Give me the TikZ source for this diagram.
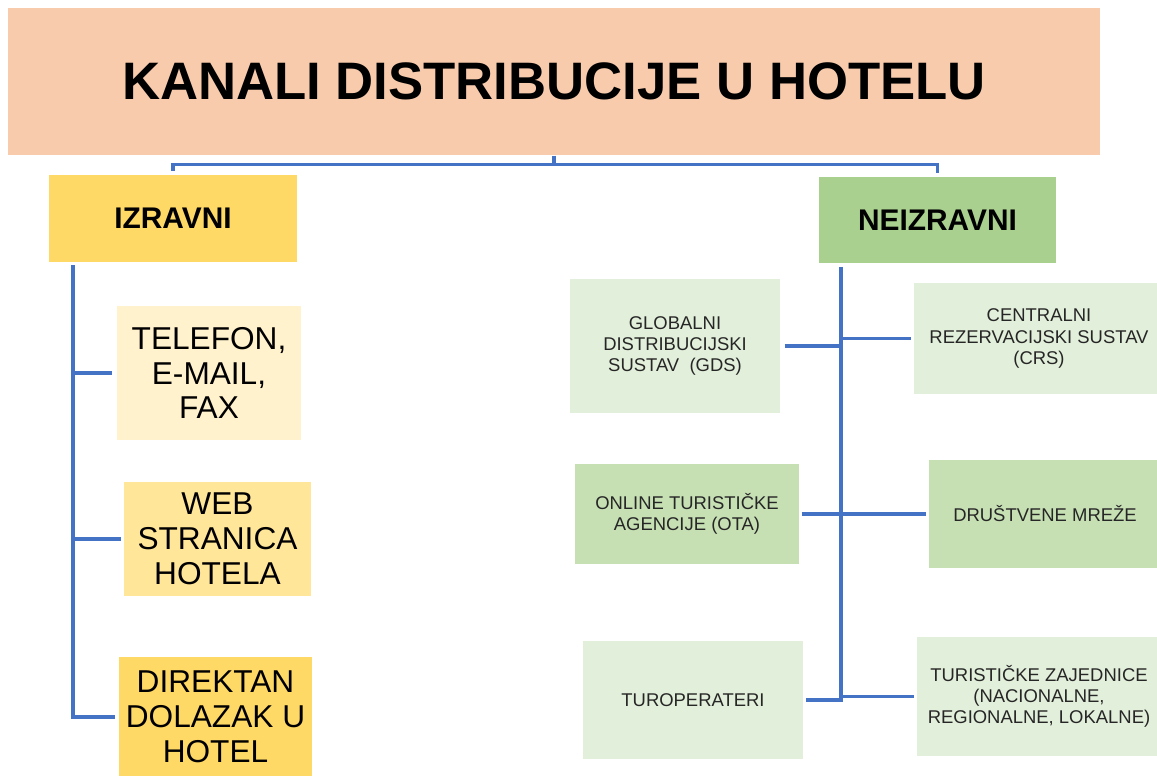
\documentclass[tikz,border=0pt]{standalone}
\usepackage{fontspec}
\setmainfont{Liberation Sans}
\usepackage{xcolor}
\definecolor{peach}{HTML}{F8CBAD}
\definecolor{gold}{HTML}{FFD966}
\definecolor{cream}{HTML}{FFF2CC}
\definecolor{sand}{HTML}{FFE699}
\definecolor{leaf}{HTML}{A9D08E}
\definecolor{mint}{HTML}{E2EFDA}
\definecolor{sage}{HTML}{C6E0B4}
\definecolor{linkblue}{HTML}{4472C4}
\usepackage{tikz}
\usetikzlibrary{calc}

\begin{document}
\begin{tikzpicture}[x=0.02cm, y=-0.02cm, semithick]
    \tikzstyle{box}=[rectangle, inner sep=0pt, align=center, text=black]
    \tikzstyle{head}=[box, font=\fontsize{17}{20}\selectfont\bfseries]
    \tikzstyle{big}=[box, font=\fontsize{18}{19.8}\selectfont]
    \tikzstyle{small}=[box, text=black!85, font=\fontsize{10.5}{12}\selectfont]
    \tikzstyle{link}=[draw=linkblue, line width=1.8pt]

    \useasboundingbox (0,0) rectangle (1157,776);

    % Title
    \node[box, fill=peach, minimum width=21.84cm, minimum height=2.94cm, font=\fontsize{30}{36}\selectfont\bfseries] (title) at (554,81.5) {KANALI DISTRIBUCIJE U HOTELU};

    % Two groups
    \node[head, fill=gold, minimum width=4.96cm, minimum height=1.74cm] (izravni) at (173,218.5) {IZRAVNI};
    \node[head, fill=leaf, minimum width=4.74cm, minimum height=1.72cm] (neizravni) at (937.5,220) {NEIZRAVNI};

    % Direct channels
    \node[big, fill=cream, minimum width=3.68cm, minimum height=2.68cm] (telefon) at (209,373) {TELEFON,\\E-MAIL,\\FAX};
    \node[big, fill=sand, minimum width=3.74cm, minimum height=2.28cm] (web) at (217.5,539) {WEB\\STRANICA\\HOTELA};
    \node[big, fill=gold, minimum width=3.86cm, minimum height=2.4cm] (direktan) at (215.5,717) {DIREKTAN\\DOLAZAK U\\HOTEL};

    % Indirect channels
    \node[small, fill=mint, minimum width=4.2cm, minimum height=2.68cm] (gds) at (675,346) {GLOBALNI\\DISTRIBUCIJSKI\\SUSTAV~~(GDS)};
    \node[small, fill=mint, minimum width=5.0cm, minimum height=2.22cm] (crs) at (1039,338.5) {CENTRALNI\\REZERVACIJSKI SUSTAV\\(CRS)};
    \node[small, fill=sage, minimum width=4.48cm, minimum height=2.02cm] (ota) at (687,514) {ONLINE TURISTIČKE\\AGENCIJE (OTA)};
    \node[small, fill=sage, minimum width=4.64cm, minimum height=2.16cm] (drustvene) at (1045,514) {DRUŠTVENE MREŽE};
    \node[small, fill=mint, minimum width=4.4cm, minimum height=2.36cm] (turo) at (693,700) {TUROPERATERI};
    \node[small, fill=mint, minimum width=4.88cm, minimum height=2.38cm] (zajednice) at (1039,696.5) {TURISTIČKE ZAJEDNICE\\(NACIONALNE,\\REGIONALNE, LOKALNE)};

    % Connectors
    \coordinate (split) at ($(title.south)+(0,9)$);
    \coordinate (ltop) at (73,265);
    \coordinate (rtop) at (841,267);
    \draw[link] (title.south) -- (split);
    \draw[link, shorten >=0.06cm] (split) -| (izravni.north);
    \draw[link, shorten >=0.06cm] (split) -| (neizravni.north);

    \draw[link, shorten >=0.06cm] (ltop) |- (direktan.west);
    \draw[link, shorten >=0.08cm] (ltop |- telefon) -- (telefon.west);
    \draw[link, shorten >=0.04cm] (ltop |- web) -- (web.west);

    \draw[link, shorten >=0.04cm] (rtop) |- (turo.east);
    \draw[link, shorten <=0.08cm] (gds.east) -- (rtop |- gds);
    \draw[link, shorten >=0.06cm] (rtop |- crs) -- (crs.west);
    \draw[link, shorten <=0.04cm, shorten >=0.06cm] (ota.east) -- (drustvene.west);
    \draw[link, shorten >=0.06cm] (rtop |- zajednice) -- (zajednice.west);
\end{tikzpicture}
\end{document}
